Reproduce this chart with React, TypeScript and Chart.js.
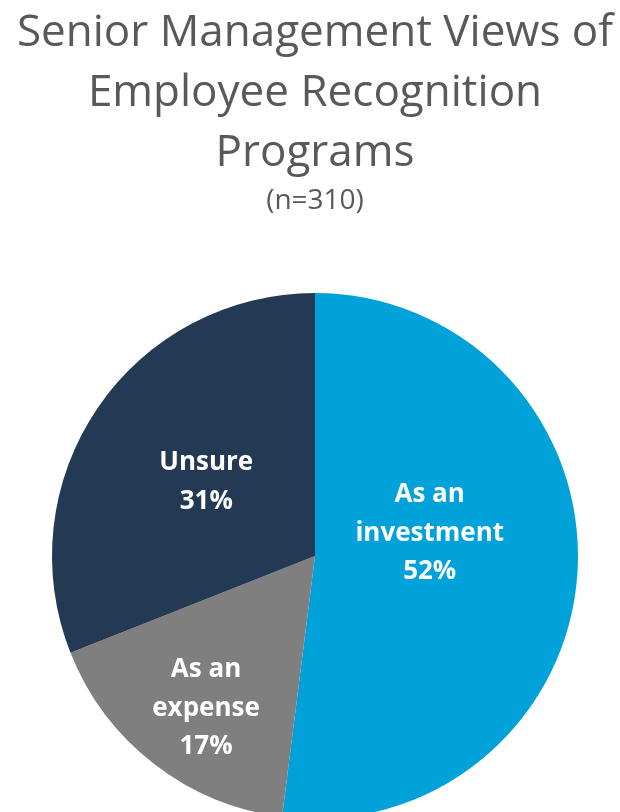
import React, { useEffect, useRef } from "react";
import { Chart, registerables } from "chart.js";

Chart.register(...registerables);

const TITLE_LINES = ["Senior Management Views of", "Employee Recognition", "Programs"];
const SUBTITLE = "(n=310)";
const CATEGORIES = ["As an investment", "As an expense", "Unsure"];
const CATEGORY_LINES = [["As an", "investment"], ["As an", "expense"], ["Unsure"]];
const VALUES = [52, 17, 31];
const COLORS = ["#00A2D9", "#7F7F7F", "#243A54"];

// label placement (style): radial factor and vertical shift as fraction of radius
const LABEL_RADIUS = [0.437, 0.676, 0.5];
const LABEL_SHIFT = [-0.114, 0.046, 0];
const LABEL_FONT = "bold 26px 'Open Sans'";
const LABEL_LINE_HEIGHT = 38.5;

const labelPlugin = {
  id: "sliceLabels",
  afterDatasetsDraw(chart: any) {
    const ctx = chart.ctx;
    const meta = chart.getDatasetMeta(0);
    ctx.save();
    ctx.font = LABEL_FONT;
    ctx.fillStyle = "#FFFFFF";
    ctx.textAlign = "center";
    ctx.textBaseline = "middle";
    meta.data.forEach((arc: any, i: number) => {
      const p = arc.getProps(["x", "y", "startAngle", "endAngle", "outerRadius"], true);
      const mid = (p.startAngle + p.endAngle) / 2;
      const d = p.outerRadius * LABEL_RADIUS[i];
      const cx = p.x + Math.cos(mid) * d;
      const cy = p.y + Math.sin(mid) * d + LABEL_SHIFT[i] * p.outerRadius;
      const lines = [...CATEGORY_LINES[i], VALUES[i] + "%"];
      const startY = cy - ((lines.length - 1) * LABEL_LINE_HEIGHT) / 2;
      lines.forEach((ln, k) => ctx.fillText(ln, cx, startY + k * LABEL_LINE_HEIGHT));
    });
    ctx.restore();
  },
};

export default function App() {
  const ref = useRef<HTMLCanvasElement>(null);
  useEffect(() => {
    if (!ref.current) return;
    const chart = new Chart(ref.current, {
      type: "pie",
      data: {
        labels: CATEGORIES,
        datasets: [
          {
            data: VALUES,
            backgroundColor: COLORS,
            borderWidth: 0,
          },
        ],
      },
      options: {
        responsive: false,
        animation: false,
        events: [],
        layout: { padding: { left: 10, right: 0, top: 0, bottom: 0 } },
        plugins: {
          legend: { display: false },
          tooltip: { enabled: false },
          title: {
            display: true,
            text: TITLE_LINES,
            color: "#595959",
            font: { family: "'Open Sans'", size: 44, weight: "normal", lineHeight: "60px" },
            padding: { top: 3, bottom: 0 },
          },
          subtitle: {
            display: true,
            text: SUBTITLE,
            color: "#595959",
            font: { family: "'Open Sans'", size: 28, weight: "normal", lineHeight: "30px" },
            padding: { top: 3, bottom: 77 },
          },
        },
      },
      plugins: [labelPlugin],
    });
    return () => chart.destroy();
  }, []);
  return (
    <div style={{ position: "fixed", left: 0, top: 0, width: 620, height: 812, overflow: "hidden", background: "#fff" }}>
      <canvas ref={ref} width={620} height={819} style={{ display: "block" }} />
    </div>
  );
}
